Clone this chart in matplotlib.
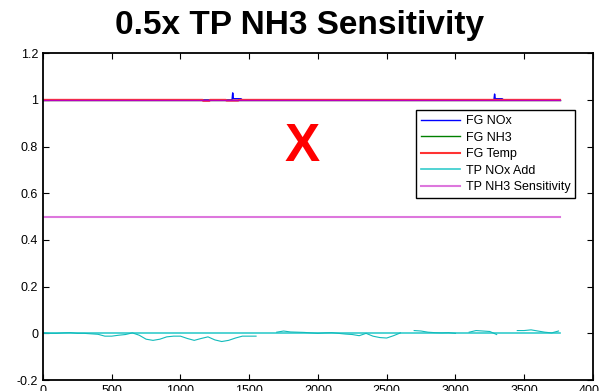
import numpy as np
import matplotlib
matplotlib.use('Agg')
import matplotlib.pyplot as plt

plt.rcParams['font.family'] = ['Liberation Sans', 'DejaVu Sans']

# sample index for the noisy TP NOx Add trace
samples = np.arange(0, 3800, 50)
tp_nox_noisy = [0.002, 0.0, 0.0, 0.002, 0.003, 0.0, 0.0, -0.002, -0.004, -0.012,
                -0.012, -0.008, -0.005, 0.002, -0.008, -0.025, -0.030, -0.025, -0.015, -0.012,
                -0.012, -0.022, -0.030, -0.022, -0.015, -0.028, -0.035, -0.030, -0.020, -0.012,
                -0.012, -0.012, np.nan, np.nan, 0.005, 0.010, 0.006, 0.005, 0.004, 0.002,
                0.0, 0.002, 0.003, 0.0, -0.003, -0.005, -0.010, 0.0, -0.012, -0.018,
                -0.020, -0.010, 0.002, np.nan, 0.012, 0.010, 0.005, 0.003, 0.002, 0.003,
                0.0, np.nan, 0.005, 0.012, 0.010, 0.008, -0.005, np.nan, np.nan, 0.012,
                0.012, 0.015, 0.010, 0.005, 0.002, 0.010]

# flat series (start / end sample)
span = [0, 3760]
tp_nox_base = [0.0, 0.0]
tp_nh3_sens = [0.5, 0.5]
tp_nh3_ref = [1.0, 1.0]
fg_nh3 = [1.0, 1.0]

fg_nox_x = [0, 1375, 1380, 1385, 1440, 1450, 3280, 3285, 3290, 3340, 3350, 3760]
fg_nox_y = [1.0, 1.0, 1.03, 1.005, 1.005, 1.0, 1.0, 1.025, 1.005, 1.005, 1.0, 1.0]

fg_temp_x = [0, 1160, 1165, 1210, 1215, 1330, 1335, 1420, 1425, 3760]
fg_temp_y = [1.0, 1.0, 0.996, 0.996, 1.0, 1.0, 0.997, 0.997, 1.0, 1.0]

fig = plt.figure(figsize=(5.99, 3.91), dpi=100)
ax = fig.add_axes([0.0718, 0.028, 0.918, 0.836])

ax.plot(fg_nox_x, fg_nox_y, color='#0000ff', lw=1, label='FG NOx')
ax.plot(span, fg_nh3, color='#008000', lw=1, label='FG NH3')
ax.plot(fg_temp_x, fg_temp_y, color='#ff3333', lw=1.5, label='FG Temp')
ax.plot(span, tp_nox_base, color='#33cccc', lw=1.2, label='TP NOx Add')
ax.plot(samples, tp_nox_noisy, color='#11bbbb', lw=0.8)
ax.plot(span, tp_nh3_sens, color='#dd77dd', lw=1.5, label='TP NH3 Sensitivity')
ax.plot(span, tp_nh3_ref, color='#bb00bb', lw=1)

ax.text(1884, 0.80, 'X', color='red', fontsize=38, fontweight='bold',
        ha='center', va='center')

ax.set_xlim(0, 4000)
ax.set_ylim(-0.2, 1.2)
ax.set_xticks(np.arange(0, 4001, 500))
ax.set_yticks([-0.2, 0, 0.2, 0.4, 0.6, 0.8, 1.0, 1.2])
ax.set_yticklabels(['-0.2', '0', '0.2', '0.4', '0.6', '0.8', '1', '1.2'])
ax.tick_params(direction='in', top=True, right=True, labelsize=9, length=4)
for s in ax.spines.values():
    s.set_linewidth(1.3)

leg = ax.legend(loc='upper left', bbox_to_anchor=(0.678, 0.826), fontsize=9,
                fancybox=False, framealpha=1, edgecolor='black',
                borderpad=0.4, labelspacing=0.36, handlelength=3.1,
                handletextpad=0.5, borderaxespad=0)
leg.get_frame().set_linewidth(1)

fig.text(0.5, 0.935, '0.5x TP NH3 Sensitivity', ha='center', va='center',
         fontsize=24, fontweight='bold')

fig.savefig('out.png', dpi=100)
